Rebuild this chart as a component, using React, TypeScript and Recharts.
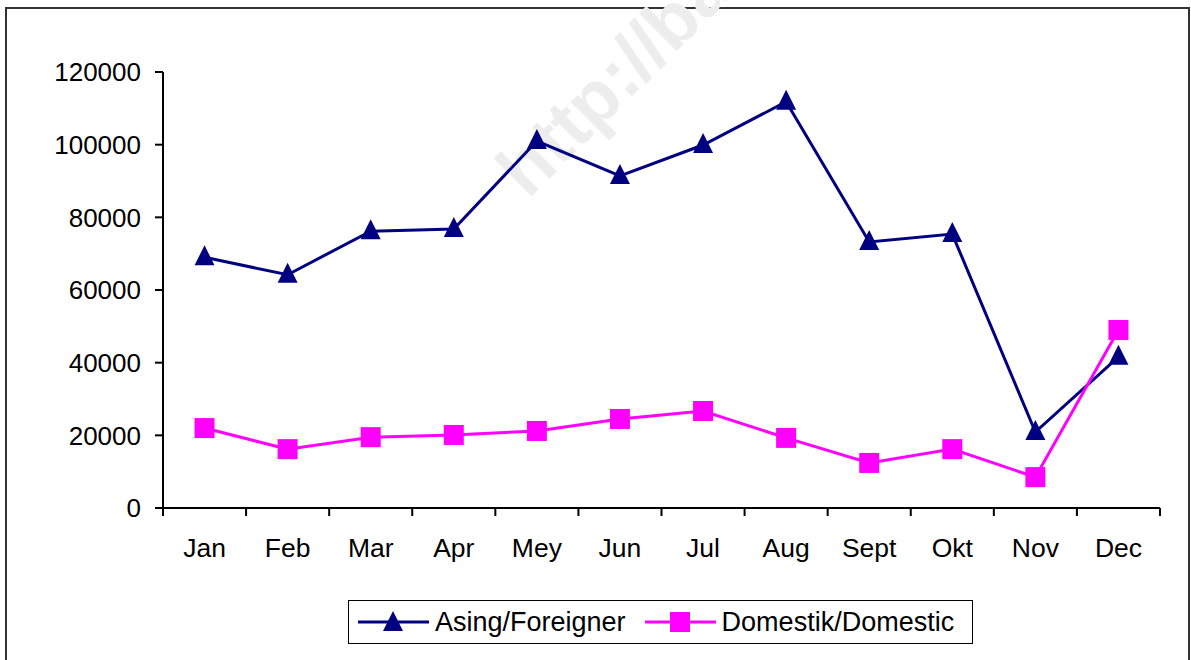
import { LineChart, Line, XAxis, YAxis } from "recharts";

const months = ["Jan", "Feb", "Mar", "Apr", "Mey", "Jun", "Jul", "Aug", "Sept", "Okt", "Nov", "Dec"];
const foreigner = [69000, 64200, 76200, 76800, 101000, 91400, 99900, 111800, 73200, 75400, 20900, 41600];
const domestic = [22000, 16200, 19500, 20100, 21200, 24500, 26700, 19300, 12400, 16200, 8500, 49000];
const yTicks = [0, 20000, 40000, 60000, 80000, 100000, 120000];
const seriesNames = ["Asing/Foreigner", "Domestik/Domestic"];

const W = 1191;
const H = 660;
const PLOT_LEFT = 163;
const PLOT_RIGHT = 1160;
const BAND = (PLOT_RIGHT - PLOT_LEFT) / months.length;
const FONT = "'Liberation Sans', Arial, sans-serif";
const NAVY = "#000080";
const MAGENTA = "#FF00FF";

const data = months.map((m, i) => ({ month: m, foreigner: foreigner[i], domestic: domestic[i] }));

function Triangle({ cx, cy, color }: any) {
  if (cx == null || cy == null) return null;
  return (
    <polygon
      points={`${cx},${cy - 12} ${cx - 10},${cy + 8} ${cx + 10},${cy + 8}`}
      fill={color}
    />
  );
}

function Square({ cx, cy, color }: any) {
  if (cx == null || cy == null) return null;
  return <rect x={cx - 10} y={cy - 10} width={20} height={20} fill={color} />;
}

function MonthTick({ x, y, payload, index }: any) {
  const left = x - BAND / 2;
  const last = index === months.length - 1;
  return (
    <g>
      <line x1={left} y1={y} x2={left} y2={y + 8} stroke="#000" strokeWidth={2} />
      {last && <line x1={x + BAND / 2} y1={y} x2={x + BAND / 2} y2={y + 8} stroke="#000" strokeWidth={2} />}
      <text x={x} y={y + 49} textAnchor="middle" fontSize={26.5} fontFamily={FONT} fill="#000">
        {payload.value}
      </text>
    </g>
  );
}

function LegendBox() {
  const item = (name: string, color: string, marker: "tri" | "sq", gap: number) => (
    <div style={{ display: "flex", alignItems: "center", marginRight: gap }}>
      <svg width={74} height={30}>
        <line x1={1} y1={15} x2={72} y2={15} stroke={color} strokeWidth={3} />
        {marker === "tri" ? (
          <polygon points="36,4 26,24 46,24" fill={color} />
        ) : (
          <rect x={26} y={5} width={20} height={20} fill={color} />
        )}
      </svg>
      <span style={{ marginLeft: 4 }}>{name}</span>
    </div>
  );
  return (
    <div
      style={{
        position: "absolute",
        left: 348,
        top: 600,
        width: 625,
        height: 44,
        border: "1px solid #000",
        display: "flex",
        alignItems: "center",
        paddingLeft: 8,
        boxSizing: "border-box",
        fontFamily: FONT,
        fontSize: 27,
        color: "#000",
        background: "#fff",
      }}
    >
      {item(seriesNames[0], NAVY, "tri", 18)}
      {item(seriesNames[1], MAGENTA, "sq", 0)}
    </div>
  );
}

export default function App() {
  return (
    <div style={{ position: "absolute", left: 0, top: 0, width: W, height: H, overflow: "hidden", background: "#fff" }}>
      <div
        style={{
          position: "absolute",
          left: 5,
          top: 7,
          width: 1185,
          height: 700,
          border: "2px solid #333",
          boxSizing: "border-box",
        }}
      />
      <svg style={{ position: "absolute", left: 0, top: 0 }} width={W} height={H}>
        <text
          x={528}
          y={200}
          transform="rotate(-45 528 200)"
          fontSize={74}
          fontWeight="bold"
          fontFamily={FONT}
          fill="#ededed"
        >
          http://ba
        </text>
      </svg>
      <div style={{ position: "absolute", left: 0, top: 0 }}>
        <LineChart
          width={W}
          height={H}
          data={data}
          margin={{ top: 72, right: W - PLOT_RIGHT, bottom: 92, left: 0 }}
        >
          <XAxis
            dataKey="month"
            height={60}
            padding={{ left: BAND / 2, right: BAND / 2 }}
            axisLine={{ stroke: "#000", strokeWidth: 2 }}
            tickLine={false}
            tickSize={0}
            tickMargin={0}
            interval={0}
            tick={<MonthTick />}
          />
          <YAxis
            width={PLOT_LEFT}
            domain={[0, 120000]}
            ticks={yTicks}
            interval={0}
            axisLine={{ stroke: "#000", strokeWidth: 2 }}
            tickLine={{ stroke: "#000", strokeWidth: 2 }}
            tickSize={8}
            tickMargin={14}
            tick={{ fill: "#000", fontSize: 26, fontFamily: FONT }}
          />
          <Line
            type="linear"
            dataKey="foreigner"
            name={seriesNames[0]}
            stroke={NAVY}
            strokeWidth={3}
            dot={<Triangle color={NAVY} />}
            activeDot={false}
            isAnimationActive={false}
          />
          <Line
            type="linear"
            dataKey="domestic"
            name={seriesNames[1]}
            stroke={MAGENTA}
            strokeWidth={3}
            dot={<Square color={MAGENTA} />}
            activeDot={false}
            isAnimationActive={false}
          />
        </LineChart>
      </div>
      <LegendBox />
    </div>
  );
}
